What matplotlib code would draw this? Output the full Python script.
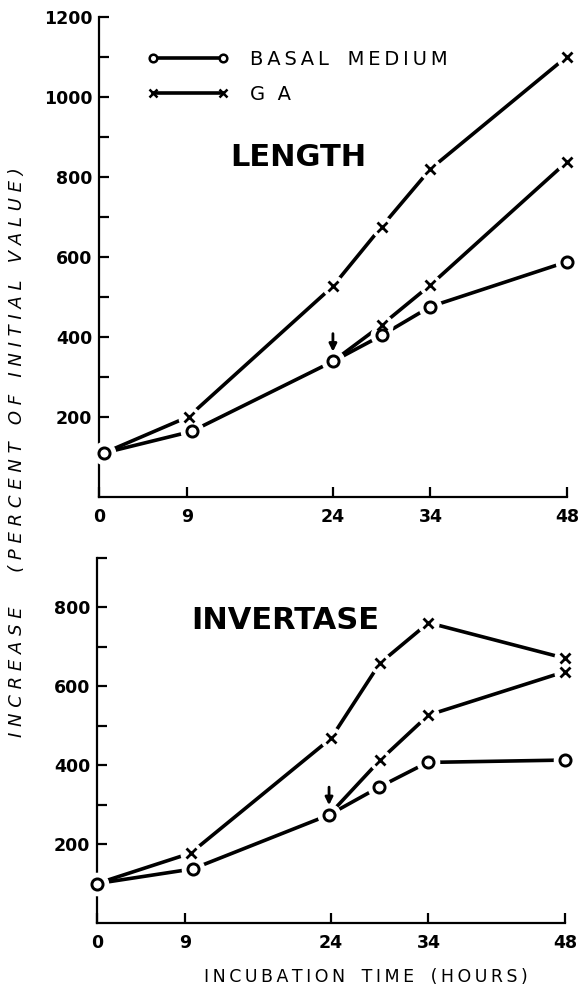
import matplotlib
matplotlib.use("Agg")
import matplotlib.pyplot as plt
from matplotlib.lines import Line2D

# ---- data --------------------------------------------------------------
hour_ticks = [0, 9, 24, 34, 48]

# LENGTH panel (percent of initial value)
len_basal_t = [0.5, 9.5, 24, 29, 34, 48]
len_basal = [110, 164, 339, 404, 476, 588]
len_ga_t = [0.5, 9.2, 24, 29, 34, 48]          # GA from the start
len_ga = [110, 201, 527, 676, 820, 1101]
len_ga24_t = [24, 29, 34, 48]                   # GA added at 24 h
len_ga24 = [339, 430, 530, 838]

# INVERTASE panel
inv_basal_t = [0, 9.8, 23.8, 28.9, 33.9, 48]
inv_basal = [100, 137, 274, 344, 407, 413]
inv_ga_t = [0, 9.6, 24, 29, 34, 48]
inv_ga = [100, 177, 468, 658, 761, 671]
inv_ga24_t = [23.8, 29, 34, 48]
inv_ga24 = [274, 412, 527, 637]

transfer_hour = 24

plt.rcParams["font.family"] = ["DejaVu Sans"]
LW = 2.6


def spaced(s, gap="\u2009"):
    return "   ".join(gap.join(w) for w in s.split(" "))


def series(ax, t, y, marker, skip_first=False):
    ax.plot(t, y, color="k", lw=LW, solid_capstyle="butt", zorder=2, clip_on=False)
    tm, ym = (t[1:], y[1:]) if skip_first else (t, y)
    halo = 16 if marker == "o" else 15
    ax.plot(tm, ym, ls="none", marker="o", ms=halo, mfc="white", mec="white",
            zorder=3, clip_on=False)
    if marker == "o":
        ax.plot(tm, ym, ls="none", marker="o", ms=8, mfc="white", mec="k", mew=2.1,
                zorder=4, clip_on=False)
    else:
        ax.plot(tm, ym, ls="none", marker="x", ms=7, mec="k", mew=2.0,
                zorder=4, clip_on=False)


def style(ax, ymax, major, minor):
    ax.set_xlim(0, 48)
    ax.set_ylim(0, ymax)
    for s in ("top", "right"):
        ax.spines[s].set_visible(False)
    for s in ("left", "bottom"):
        ax.spines[s].set_linewidth(1.6)
    ax.set_xticks(hour_ticks)
    ax.set_xticklabels([str(h) for h in hour_ticks])
    ax.set_yticks(major)
    ax.set_yticks(minor, minor=True)
    ax.tick_params(axis="both", which="both", direction="in", width=1.6, length=7,
                   labelsize=12.5)
    ax.tick_params(axis="x", pad=8)
    ax.tick_params(axis="y", pad=5)
    for lab in ax.get_xticklabels() + ax.get_yticklabels():
        lab.set_fontweight("bold")


def arrow(ax, x, y):
    ax.annotate("", xy=(x, y), xytext=(0, 20), textcoords="offset points",
                arrowprops=dict(arrowstyle="-|>", color="k", lw=2.0, shrinkA=0,
                                shrinkB=7, mutation_scale=11), zorder=5)


fig = plt.figure(figsize=(5.79, 9.91), dpi=100)
ax1 = fig.add_axes([0.171, 0.4985, 0.808, 0.4843])
ax2 = fig.add_axes([0.1675, 0.0686, 0.8083, 0.3683])

# LENGTH
series(ax1, len_basal_t, len_basal, "o")
series(ax1, len_ga_t, len_ga, "x", skip_first=True)
series(ax1, len_ga24_t, len_ga24, "x", skip_first=True)
style(ax1, 1200, [200, 400, 600, 800, 1000, 1200], [100, 300, 500, 700, 900, 1100])
ax1.set_yticklabels(["200", "400", "600", "800", "1000", "1200"])
arrow(ax1, transfer_hour, len_basal[len_basal_t.index(transfer_hour)])
ax1.text(20.4, 850, "LENGTH", fontsize=22, fontweight="bold", ha="center", va="center")

handles = [
    Line2D([], [], color="k", lw=2.6, marker="o", ms=5.5, mfc="white", mec="k", mew=1.8),
    Line2D([], [], color="k", lw=2.6, marker="x", ms=6, mec="k", mew=1.8),
]
ax1.legend(handles, [spaced("BASAL MEDIUM"), "G  A"], loc="center left",
           bbox_to_anchor=(0.102, 0.875), frameon=False, numpoints=2,
           fontsize=14, handlelength=4.2, handletextpad=1.1, labelspacing=0.85,
           borderpad=0, borderaxespad=0)

# INVERTASE
series(ax2, inv_basal_t, inv_basal, "o")
series(ax2, inv_ga_t, inv_ga, "x", skip_first=True)
series(ax2, inv_ga24_t, inv_ga24, "x", skip_first=True)
style(ax2, 925, [200, 400, 600, 800], [100, 300, 500, 700, 925])
ax2.set_yticklabels(["200", "400", "600", "800"])
arrow(ax2, inv_basal_t[2], inv_basal[2])
ax2.text(19.3, 767, "INVERTASE", fontsize=22, fontweight="bold", ha="center", va="center")

fig.text(0.632, 0.014, spaced("INCUBATION TIME (HOURS)"), fontsize=12.5,
         ha="center", va="center")
fig.text(0.029, 0.544, spaced("INCREASE  (PERCENT OF INITIAL VALUE)", gap=" "),
         fontsize=13, style="italic", rotation=90, ha="center", va="center")

fig.savefig("out.png", dpi=100)
